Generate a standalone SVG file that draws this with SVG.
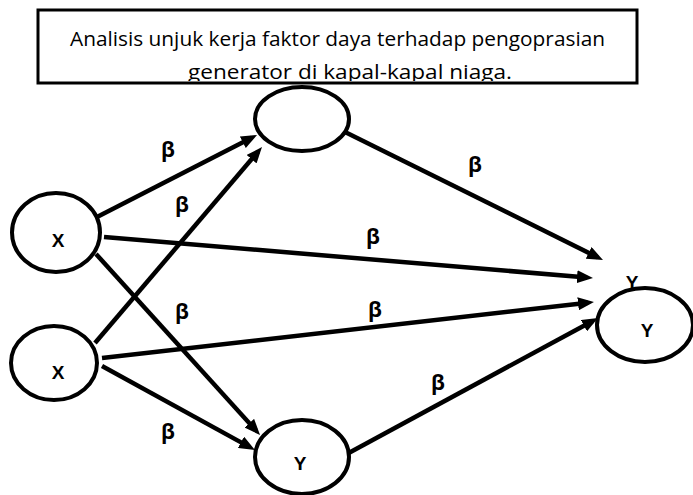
<svg xmlns="http://www.w3.org/2000/svg" width="693" height="495" viewBox="0 0 693 495">
<style>
.node{fill:#fff;stroke:#000;stroke-width:4}
.lbl{font-family:"Liberation Sans",Arial,sans-serif;font-weight:bold;font-size:19px;text-anchor:middle;fill:#000}
.beta{font-family:"Open Sans","Noto Sans",sans-serif;font-weight:bold;font-size:21px;text-anchor:middle;fill:#000}
.title{font-family:"Open Sans","Noto Sans",sans-serif;font-size:19.5px;fill:#000}
.edge{stroke:#000;stroke-width:4.5;fill:none;marker-end:url(#ah)}
</style>
<defs>
<marker id="ah" markerUnits="userSpaceOnUse" markerWidth="16" markerHeight="13" refX="10" refY="6.5" orient="auto">
<path d="M0,0 L16,6.5 L0,13 z" fill="#000"/>
</marker>
<clipPath id="tc"><rect x="38" y="10" width="600" height="71"/></clipPath>
</defs>
<rect width="693" height="495" fill="#fff"/>
<g id="title">
<rect x="38" y="10" width="599" height="73" fill="#fff" stroke="#000" stroke-width="3"/>
<g clip-path="url(#tc)">
<text class="title" x="70" y="46" textLength="535" lengthAdjust="spacingAndGlyphs">Analisis unjuk kerja faktor daya terhadap pengoprasian</text>
<text class="title" x="188" y="79" textLength="324" lengthAdjust="spacingAndGlyphs">generator di kapal-kapal niaga.</text>
</g>
</g>
<g id="connectors">
<line class="edge" x1="97" y1="217" x2="251.7" y2="137.7"/>
<line class="edge" x1="104" y1="237" x2="587" y2="277.5"/>
<line class="edge" x1="96" y1="254" x2="256" y2="430.6"/>
<line class="edge" x1="95" y1="343" x2="258.1" y2="151.6"/>
<line class="edge" x1="102" y1="358" x2="588" y2="302.7"/>
<line class="edge" x1="102" y1="366" x2="249.7" y2="447.1"/>
<line class="edge" x1="345" y1="132" x2="597.6" y2="257.3"/>
<line class="edge" x1="345" y1="455" x2="592.7" y2="320.9"/>
</g>
<g id="node-top">
<ellipse class="node" cx="302" cy="119" rx="47" ry="32"/>
</g>
<g id="node-x1">
<ellipse class="node" cx="56" cy="232.5" rx="44" ry="39.5"/>
<text class="lbl" x="58" y="247">X</text>
</g>
<g id="node-x2">
<ellipse class="node" cx="54" cy="363" rx="43" ry="37"/>
<text class="lbl" x="58" y="379">X</text>
</g>
<g id="node-ybottom">
<ellipse class="node" cx="302" cy="457" rx="47" ry="37"/>
<text class="lbl" x="300" y="470">Y</text>
</g>
<g id="node-yright">
<ellipse class="node" cx="645" cy="325" rx="48" ry="37"/>
<text class="lbl" x="647" y="337">Y</text>
<text class="lbl" x="632" y="289">Y</text>
</g>
<g id="betas">
<text class="beta" x="168" y="157">β</text>
<text class="beta" x="182" y="212">β</text>
<text class="beta" x="475" y="172">β</text>
<text class="beta" x="373" y="244">β</text>
<text class="beta" x="182" y="319">β</text>
<text class="beta" x="375" y="317">β</text>
<text class="beta" x="438" y="390">β</text>
<text class="beta" x="168" y="439">β</text>
</g>
</svg>
